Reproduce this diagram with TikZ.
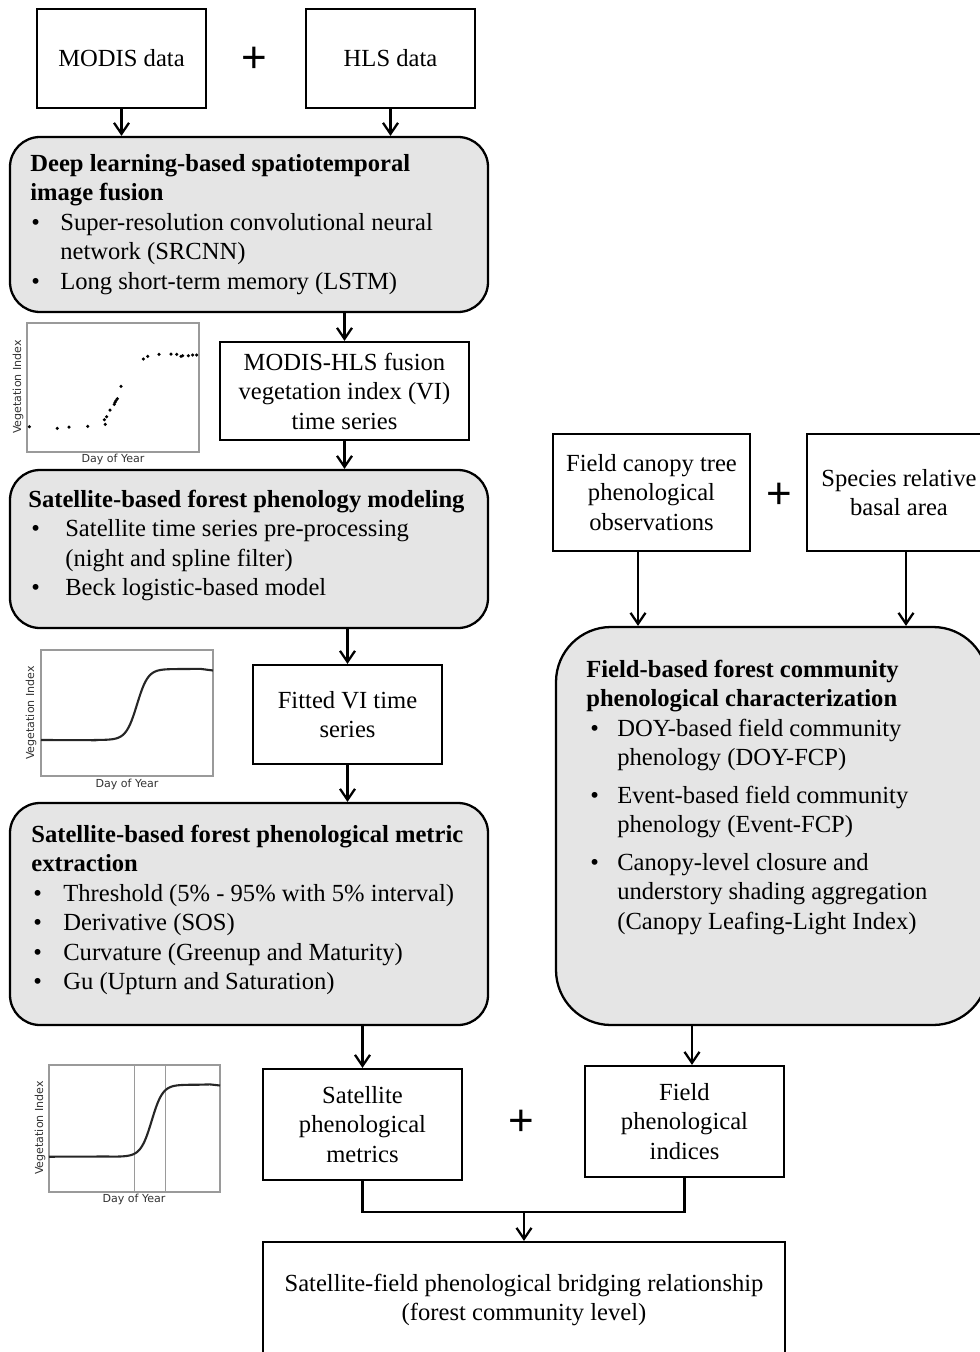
\documentclass[tikz,border=0pt]{standalone}
\usepackage{fontspec}
\setmainfont{Liberation Serif}
\newfontfamily\plotfont{DejaVu Sans}
\newfontfamily\plusfont{Liberation Sans}
\usetikzlibrary{arrows.meta, positioning, fit}
\definecolor{boxGrey}{HTML}{E5E5E5}
\definecolor{plotGrey}{HTML}{9A9A9A}
\newcommand{\boxfont}{\fontsize{14}{16.8}\selectfont}
\newenvironment{steplist}[1]{\begin{tabular}{@{}p{#1}@{}l@{}}}{\end{tabular}}
\newcommand{\steptitle}[1]{\multicolumn{2}{@{}l@{}}{\textbf{#1}}}
\tikzset{
  plainbox/.style = {draw, line width=1.3pt, inner sep=0pt, align=center, font=\boxfont},
  greybox/.style  = {draw, fill=boxGrey, line width=1.3pt, inner sep=0pt, rounded corners=0.6cm},
  boxtext/.style  = {anchor=north west, inner sep=0pt, font=\boxfont},
  flow/.style     = {-{Straight Barb[length=2.2mm, width=3mm]}, line width=1.3pt},
  link/.style     = {line width=1.3pt},
  plus/.style     = {font=\plusfont\fontsize{25}{25}\selectfont, inner sep=0pt},
  frame/.style    = {plotGrey, line width=0.6pt},
  axlbl/.style    = {font=\plotfont\fontsize{6.3}{7}\selectfont, inner sep=0pt, black!80},
  curve/.style    = {line width=1.2pt, black!85},
  vidot/.style    = {circle, fill=black, inner sep=0pt, minimum size=0.07cm},
}

\begin{document}
\begin{tikzpicture}[x=0.02cm, y=-0.02cm]
  \useasboundingbox (0,0) rectangle (980,1352);
  \clip (0,0) rectangle (980,1352);

  % input data
  \node[plainbox, minimum width=3.38cm, minimum height=1.98cm] (modis) at (121.5,58.5) {MODIS data};
  \node[plainbox, minimum width=3.38cm, minimum height=1.98cm] (hls) at (390.5,58.5) {HLS data};
  \node[plus] (plusA) at (254,60) {+};

  % fusion step
  \node[greybox, fit={(10,137) (488,312)}] (fusion) {};
  \node[boxtext] (fusiontxt) at (30,150) {\begin{steplist}{0.6cm}
    \steptitle{Deep learning-based spatiotemporal}\\
    \steptitle{image fusion}\\
    \hspace{0.02cm}\textbullet & Super-resolution convolutional neural\\
    & network (SRCNN)\\
    \hspace{0.02cm}\textbullet & Long short-term memory (LSTM)
  \end{steplist}};
  \draw[flow] (modis.south) -- (modis.south |- fusion.north);
  \draw[flow] (hls.south) -- (hls.south |- fusion.north);

  % fused VI series
  \node[plainbox, minimum width=4.98cm, minimum height=1.96cm] (vi) at (344.5,391) {MODIS-HLS fusion\\vegetation index (VI)\\time series};
  \draw[flow] (vi.north |- fusion.south) -- (vi.north);

  % scatter of fused VI
  \draw[frame] (27,323) rectangle (199,452);
  \node[axlbl, rotate=90] (vilblA) at (18,387) {Vegetation Index};
  \node[axlbl] (doylblA) at (113,459) {Day of Year};
  \foreach \px/\py in {29.3/426.7, 57.3/428.3, 69/427, 87.7/426.3, 104.3/419.7,
      105.3/424.3, 106.7/416.7, 110/410, 114.3/404.3, 115/402.3, 116/400.7,
      117.3/398.7, 121/386.3, 143.3/359, 147.7/356.3, 159/354.3, 171/354,
      176.7/354.3, 181/356.3, 182.7/355.7, 188.3/355.7, 192.7/355, 196.7/355}
    \node[vidot] at (\px,\py) {};

  % phenology modeling
  \node[greybox, fit={(10,470) (488,628)}] (model) {};
  \node[boxtext] (modeltxt) at (28,486) {\begin{steplist}{0.74cm}
    \steptitle{Satellite-based forest phenology modeling}\\
    \hspace{0.06cm}\textbullet & Satellite time series pre-processing\\
    & (night and spline filter)\\
    \hspace{0.06cm}\textbullet & Beck logistic-based model
  \end{steplist}};
  \draw[flow] (vi.south) -- (vi.south |- model.north);

  % fitted series
  \node[plainbox, minimum width=3.78cm, minimum height=1.98cm] (fitted) at (347.5,714.5) {Fitted VI time\\series};
  \draw[flow] (fitted.north |- model.south) -- (fitted.north);

  \draw[frame] (41,650) rectangle (213,776);
  \node[axlbl, rotate=90] (vilblB) at (31,713) {Vegetation Index};
  \node[axlbl] (doylblB) at (127,784) {Day of Year};
  \draw[curve] (41,740) -- (95,740.2)
    -- plot[domain=95:185, samples=70] (\x, {740 - 71/(1+exp(-(\x-137)/5.5))})
    -- (200,668.8) -- (213,670.5);

  % metric extraction
  \node[greybox, fit={(10,803) (488,1025)}] (metric) {};
  \node[boxtext] (metrictxt) at (31,821) {\begin{steplist}{0.64cm}
    \steptitle{Satellite-based forest phenological metric}\\
    \steptitle{extraction}\\
    \hspace{0.04cm}\textbullet & Threshold (5\% - 95\% with 5\% interval)\\
    \hspace{0.04cm}\textbullet & Derivative (SOS)\\
    \hspace{0.04cm}\textbullet & Curvature (Greenup and Maturity)\\
    \hspace{0.04cm}\textbullet & Gu (Upturn and Saturation)
  \end{steplist}};
  \draw[flow] (fitted.south) -- (fitted.south |- metric.north);

  \draw[frame] (49,1065) rectangle (220,1192);
  \draw[plotGrey, line width=0.9pt] (134.3,1065) -- (134.3,1192);
  \draw[plotGrey, line width=0.9pt] (165.3,1065) -- (165.3,1192);
  \node[axlbl, rotate=90] (vilblC) at (40,1128) {Vegetation Index};
  \node[axlbl] (doylblC) at (134,1199) {Day of Year};
  \draw[curve] (49,1156.7) -- (108,1156.5)
    -- plot[domain=108:198, samples=70] (\x, {1156.7 - 72/(1+exp(-(\x-151.7)/5.5))})
    -- (210,1084.4) -- (220,1085.5);

  % field observations
  \node[plainbox, minimum width=3.94cm, minimum height=2.34cm] (canopy) at (651.5,492.5) {Field canopy tree\\phenological\\observations};
  \node[plainbox, minimum width=3.68cm, minimum height=2.34cm] (species) at (899,492.5) {Species relative\\basal area};
  \node[plus] (plusB) at (779,496) {+};

  \node[greybox, rounded corners=1.1cm, fit={(556,627) (988,1025)}] (fieldchar) {};
  \node[boxtext] (fieldtxt) at (586,656) {\begin{steplist}{0.62cm}
    \steptitle{Field-based forest community}\\
    \steptitle{phenological characterization}\\
    \hspace{0.08cm}\textbullet & DOY-based field community\\
    & phenology (DOY-FCP)\\[4.6pt]
    \hspace{0.08cm}\textbullet & Event-based field community\\
    & phenology (Event-FCP)\\[4.6pt]
    \hspace{0.08cm}\textbullet & Canopy-level closure and\\
    & understory shading aggregation\\
    & (Canopy Leafing-Light Index)
  \end{steplist}};
  \draw[flow] ([xshift=-0.27cm]canopy.south) -- ([xshift=-0.27cm]canopy.south |- fieldchar.north);
  \draw[flow] ([xshift=0.14cm]species.south) -- ([xshift=0.14cm]species.south |- fieldchar.north);

  % metrics and indices
  \node[plainbox, minimum width=3.98cm, minimum height=2.22cm] (satmet) at (362.5,1124.5) {Satellite\\phenological\\metrics};
  \node[plainbox, minimum width=3.98cm, minimum height=2.22cm] (fieldidx) at (684.5,1121.5) {Field\\phenological\\indices};
  \node[plus] (plusC) at (521,1123) {+};
  \draw[flow] (satmet.north |- metric.south) -- (satmet.north);
  \draw[flow] ([xshift=0.15cm]fieldidx.north |- fieldchar.south) -- ([xshift=0.15cm]fieldidx.north);

  % bridging relationship
  \node[plainbox, minimum width=10.44cm, minimum height=2.32cm] (bridge) at (524,1300) {Satellite-field phenological bridging relationship\\(forest community level)};
  \coordinate (merge) at (bridge.north |- 0,1212);
  \draw[link] (satmet.south) |- (merge) -| (fieldidx.south);
  \draw[flow] (merge) -- (bridge.north);
\end{tikzpicture}
\end{document}
